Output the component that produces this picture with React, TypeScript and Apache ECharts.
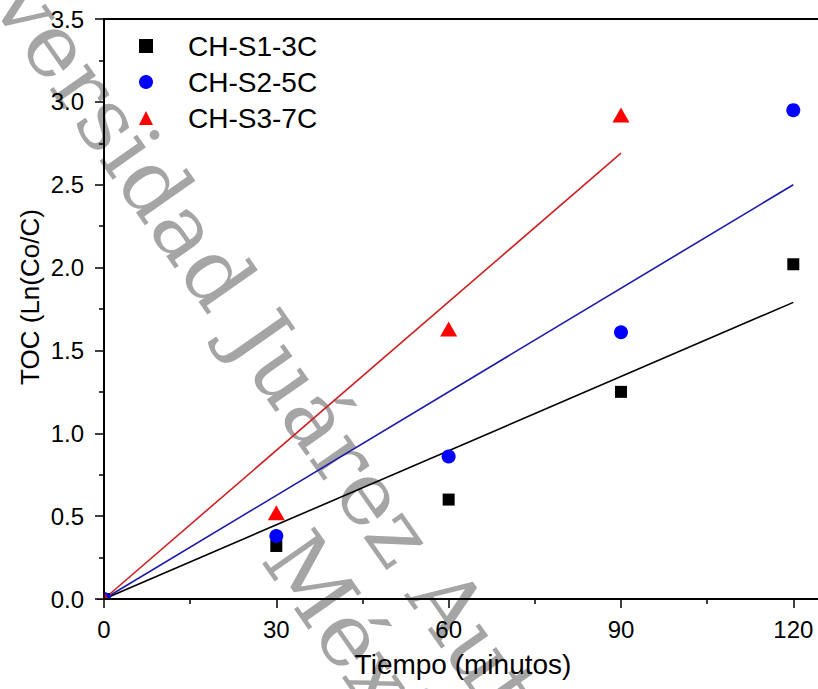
import React, { useEffect, useRef } from "react";
import * as echarts from "echarts";

const tiempo = [0, 30, 60, 90, 120];
const tiempoS3 = [0, 30, 60, 90];
const chS1 = [0, 0.32, 0.6, 1.25, 2.02];
const chS2 = [0, 0.38, 0.86, 1.61, 2.95];
const chS3 = [0, 0.52, 1.63, 2.92];
const fitX1 = [0, 120];
const fitS1 = [0, 1.79];
const fitX2 = [0, 120];
const fitS2 = [0, 2.5];
const fitX3 = [0, 90];
const fitS3 = [0, 2.69];
const xMajorTicks = [0, 30, 60, 90, 120];
const xMinorTicks = [15, 45, 75, 105];
const seriesNames = ["CH-S1-3C", "CH-S2-5C", "CH-S3-7C"];
const xTitle = "Tiempo (minutos)";
const yTitle = "TOC (Ln(Co/C)";
const watermark = "Universidad Juárez Autónoma de Tabasco\nMéxico";

const zip = (xs: number[], ys: number[]) => xs.map((x, i) => [x, ys[i]]);

export default function App() {
  const ref = useRef<HTMLDivElement>(null);
  useEffect(() => {
    if (!ref.current) return;
    const chart = echarts.init(ref.current, null, { renderer: "svg" });
    const font = "'Liberation Sans', Arial, sans-serif";
    const axisLine = { show: true, onZero: false, lineStyle: { color: "#000", width: 2 } };
    const X_MAX = 124.3;
    const option: any = {
      animation: false,
      grid: { left: 104, top: 19, right: 0, height: 580 },
      legend: {
        data: seriesNames,
        orient: "vertical",
        left: 139,
        top: 31,
        padding: 0,
        itemWidth: 14,
        itemHeight: 14,
        itemGap: 6,
        textStyle: { fontSize: 28, fontFamily: font, color: "#000", lineHeight: 30, padding: [0, 0, 0, 30] },
      },
      xAxis: [
        {
          type: "value",
          min: 0,
          max: X_MAX,
          interval: 30,
          z: 10,
          axisLine,
          axisTick: { show: true, length: 9, customValues: xMajorTicks, lineStyle: { color: "#000", width: 1.5 } },
          splitLine: { show: false },
          axisLabel: { color: "#000", fontSize: 24, fontFamily: font, margin: 18, customValues: xMajorTicks },
        },
        {
          type: "value",
          position: "top",
          min: 0,
          max: X_MAX,
          interval: 30,
          z: 10,
          axisLine,
          axisTick: { show: false },
          axisLabel: { show: false },
          splitLine: { show: false },
        },
        {
          type: "value",
          position: "bottom",
          min: 0,
          max: X_MAX,
          interval: 30,
          z: 10,
          axisLine: { show: false, onZero: false },
          axisTick: { show: true, length: 5, customValues: xMinorTicks, lineStyle: { color: "#000", width: 1.5 } },
          axisLabel: { show: false },
          splitLine: { show: false },
        },
      ],
      yAxis: {
        type: "value",
        min: 0,
        max: 3.5,
        interval: 0.5,
        z: 10,
        axisLine,
        axisTick: { show: true, length: 9, lineStyle: { color: "#000", width: 1.5 } },
        minorTick: { show: true, splitNumber: 2, length: 5, lineStyle: { color: "#000", width: 1.5 } },
        splitLine: { show: false },
        axisLabel: {
          color: "#000",
          fontSize: 24,
          fontFamily: font,
          margin: 20,
          formatter: (v: number) => v.toFixed(1),
        },
      },
      graphic: [
        {
          type: "text",
          z: -1,
          x: 417,
          y: 646,
          rotation: -0.96,
          style: {
            text: watermark,
            fontFamily: "'DejaVu Serif', serif",
            fontSize: 88,
            lineHeight: 98,
            fill: "#a5a5a5",
            align: "center",
            verticalAlign: "middle",
          },
        },
        // white masks emulate the plot-area clipping of the origin markers
        { type: "rect", z: 6, shape: { x: 84, y: 584, width: 19, height: 15 }, style: { fill: "#fff" } },
        { type: "rect", z: 6, shape: { x: 84, y: 600, width: 36, height: 14 }, style: { fill: "#fff" } },
        {
          type: "text",
          x: 463,
          y: 664,
          style: { text: xTitle, fontFamily: font, fontSize: 28, fill: "#000", align: "center", verticalAlign: "middle" },
        },
        {
          type: "text",
          x: 30,
          y: 297,
          rotation: Math.PI / 2,
          style: { text: yTitle, fontFamily: font, fontSize: 26, fill: "#000", align: "center", verticalAlign: "middle" },
        },
      ],
      series: [
        {
          type: "line",
          data: zip(fitX1, fitS1),
          showSymbol: false,
          symbol: "none",
          lineStyle: { color: "#000000", width: 1.6 },
          silent: true,
          z: 3,
        },
        {
          type: "line",
          data: zip(fitX2, fitS2),
          showSymbol: false,
          symbol: "none",
          lineStyle: { color: "#1a1aa8", width: 1.6 },
          silent: true,
          z: 3,
        },
        {
          type: "line",
          data: zip(fitX3, fitS3),
          showSymbol: false,
          symbol: "none",
          lineStyle: { color: "#cc2222", width: 1.6 },
          silent: true,
          z: 3,
        },
        {
          name: seriesNames[0],
          type: "scatter",
          data: zip(tiempo, chS1),
          symbol: "rect",
          symbolSize: 12,
          itemStyle: { color: "#000000", opacity: 1 },
          z: 4,
        },
        {
          name: seriesNames[1],
          type: "scatter",
          data: zip(tiempo, chS2),
          symbol: "circle",
          symbolSize: 14,
          itemStyle: { color: "#0000ff", opacity: 1 },
          z: 4,
        },
        {
          name: seriesNames[2],
          type: "scatter",
          data: zip(tiempoS3, chS3),
          symbol: "triangle",
          symbolSize: [17, 15],
          itemStyle: { color: "#ff0000", opacity: 1 },
          z: 4,
        },
      ],
    };
    chart.setOption(option);
    return () => chart.dispose();
  }, []);
  return <div ref={ref} style={{ width: 818, height: 689, position: "absolute", left: 0, top: 0 }} />;
}
